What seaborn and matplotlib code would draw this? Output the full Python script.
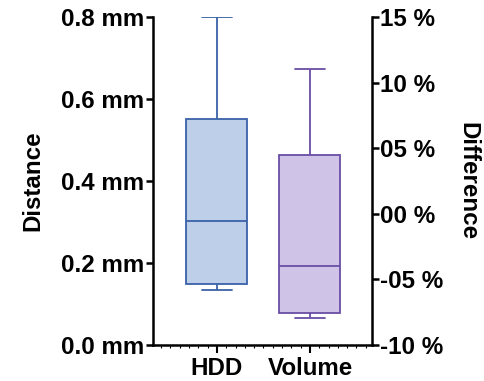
import numpy as np
import pandas as pd
import matplotlib
matplotlib.use("Agg")
import matplotlib.pyplot as plt
from matplotlib.ticker import FuncFormatter, MultipleLocator
import seaborn as sns

sns.set_style("ticks")
plt.rcParams['font.family'] = ['Liberation Sans', 'DejaVu Sans']
plt.rcParams['font.weight'] = 'bold'
for k in ("text.color", "axes.labelcolor", "xtick.color", "ytick.color", "axes.edgecolor"):
    plt.rcParams[k] = "black"

categories = ["HDD", "Volume"]
# five-number summaries: min, q1, median, q3, max
hdd_mm = [0.134, 0.149, 0.302, 0.551, 0.800]
volume_pct = [-7.94, -7.56, -3.98, 4.48, 11.04]

left_ticks = [0.0, 0.2, 0.4, 0.6, 0.8]
right_ticks = [-10, -5, 0, 5, 10, 15]

fig = plt.figure(figsize=(4.84, 3.81), dpi=100)
ax = fig.add_axes([0.316, 0.0945, 0.4526, 0.861])
ax2 = ax.twinx()

df1 = pd.DataFrame({"cat": ["HDD"] * 5, "val": hdd_mm})
df2 = pd.DataFrame({"cat": ["Volume"] * 5, "val": volume_pct})

c_fill1, c_edge1 = "#bdcfe9", "#3a62a8"
c_fill2, c_edge2 = "#cfc3e8", "#6a4ea6"

common = dict(x="cat", y="val", order=categories, whis=np.inf, width=0.656,
              showfliers=False, linewidth=1.3)
sns.boxplot(data=df1, ax=ax, color=c_fill1, linecolor=c_edge1, saturation=1, **common)
sns.boxplot(data=df2, ax=ax2, color=c_fill2, linecolor=c_edge2, saturation=1, **common)

for a in (ax, ax2):
    a.set_xlim(-0.688, 1.667)

ax.set_ylim(0, 0.8)
ax.set_yticks(left_ticks)
ax.yaxis.set_major_formatter(FuncFormatter(lambda v, p: f"{v:.1f} mm"))
ax2.set_ylim(-10, 15)
ax2.set_yticks(right_ticks)
ax2.yaxis.set_major_formatter(FuncFormatter(lambda v, p: ("-" if v < 0 else "") + f"{abs(int(round(v))):02d} %"))

fs = 17.4
ax.set_xlabel("")
ax2.set_xlabel("")
ax.set_ylabel("Distance", fontsize=fs, fontweight="bold", labelpad=12)
ax2.set_ylabel("Difference", fontsize=fs, fontweight="bold", rotation=270, labelpad=26)

ax.spines["top"].set_visible(False)
ax2.spines["top"].set_visible(False)
for s in ("left", "bottom"):
    ax.spines[s].set_linewidth(1.8)
ax.spines["right"].set_visible(False)
ax2.spines["right"].set_linewidth(1.8)
ax2.spines["left"].set_visible(False)
ax2.spines["bottom"].set_visible(False)

ax.tick_params(axis="y", labelsize=fs, width=1.8, length=5, pad=1)
ax2.tick_params(axis="y", labelsize=fs, width=1.8, length=5, pad=1)
ax.tick_params(axis="x", labelsize=fs, width=1.5, length=6, pad=3)
ax.xaxis.set_minor_locator(MultipleLocator(0.1))
ax.tick_params(axis="x", which="minor", length=2, width=0.8)
ax2.tick_params(axis="x", which="both", bottom=False, labelbottom=False)

for lbl in ax.get_xticklabels() + ax.get_yticklabels() + ax2.get_yticklabels():
    lbl.set_fontweight("bold")

fig.savefig("out.png", dpi=100)
